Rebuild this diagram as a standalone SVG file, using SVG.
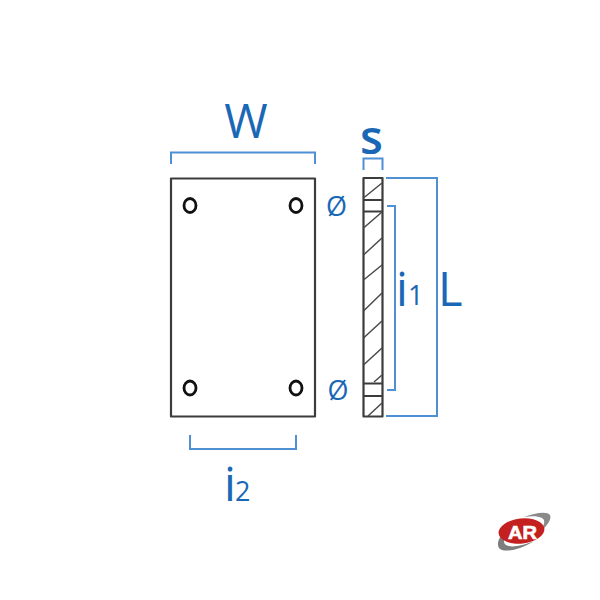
<svg xmlns="http://www.w3.org/2000/svg" width="600" height="600" viewBox="0 0 600 600">
<style>
.dim{fill:none;stroke:#4f8fd3;stroke-width:2}
.ol{fill:none;stroke:#3c3c3c;stroke-width:2.200;stroke-linejoin:round}
.ht{fill:none;stroke:#4a4a4a;stroke-width:1.500}
.hole{fill:#fff;stroke:#111;stroke-width:2.800}
text{font-family:"Open Sans","Liberation Sans",sans-serif;fill:#1a68b5}
.big{font-size:47px}
.sub{font-size:27px}
.dia{font-size:27px}
</style>
<rect width="600" height="600" fill="#fff"/>
<g id="plate">
<rect class="ol" x="171" y="178.500" width="144" height="238"/>
<ellipse class="hole" cx="190" cy="205.500" rx="6" ry="7"/>
<ellipse class="hole" cx="296" cy="205.500" rx="6" ry="7"/>
<ellipse class="hole" cx="190" cy="388" rx="6" ry="7"/>
<ellipse class="hole" cx="296" cy="388" rx="6" ry="7"/>
</g>
<g id="section">
<rect class="ol" x="363.500" y="178" width="19" height="238.500"/>
<path class="ol" d="M363.500 200H382.500M363.500 211.500H382.500M363.500 383.500H382.500M363.500 396H382.500"/>
<path class="ht" d="M363.500 198L382 183M363.500 228L382 212M363.500 255L382 238M363.500 280L382 265M363.500 311L382 293M363.500 338L382 321M363.500 365L382 348M374 382L382 375M368 416L382 403"/>
</g>
<g id="connectors">
<path class="dim" d="M171 164V152.500H315V164"/>
<path class="dim" d="M363.500 170V158.500H382.500V170"/>
<path class="dim" d="M386 178H437V416H386"/>
<path class="dim" d="M387 206H395V390H387"/>
<path class="dim" d="M190 435V449H296V435"/>
</g>
<g id="labels">
<text class="big" x="246" y="137.500" text-anchor="middle">W</text>
<text class="big" x="371.500" y="154" text-anchor="middle" style="font-weight:600">s</text>
<text class="big" x="438" y="305.500">L</text>
<text class="big" x="396" y="305.500">i</text>
<text class="sub" x="408" y="305">1</text>
<text class="big" x="224" y="501">i</text>
<text class="sub" x="235" y="501">2</text>
<text class="dia" x="336.500" y="216" text-anchor="middle">Ø</text>
<text class="dia" x="338" y="400" text-anchor="middle">Ø</text>
</g>
<g id="logo">
<path d="M500 549C494 543 502 532 512 525C506 533 501 541 506 545C511 548 522 546 534 541C522 549 506 553 500 549Z" fill="#7d7d7d"/>
<path d="M524 517C535 513 547 511 550 515C552 519 547 526 541 531C544 525 546 520 542 518C538 516 531 516 524 517Z" fill="#8a8a8a"/>
<ellipse cx="521.500" cy="531" rx="23" ry="12.500" transform="rotate(-6 521.500 531)" fill="#c3201f"/>
<text x="522.500" y="538.500" text-anchor="middle" textLength="29" lengthAdjust="spacingAndGlyphs" style="font-family:'Liberation Sans',sans-serif;font-size:18px;font-weight:700;fill:#fff;stroke:#fff;stroke-width:.6">AR</text>
</g>
</svg>
